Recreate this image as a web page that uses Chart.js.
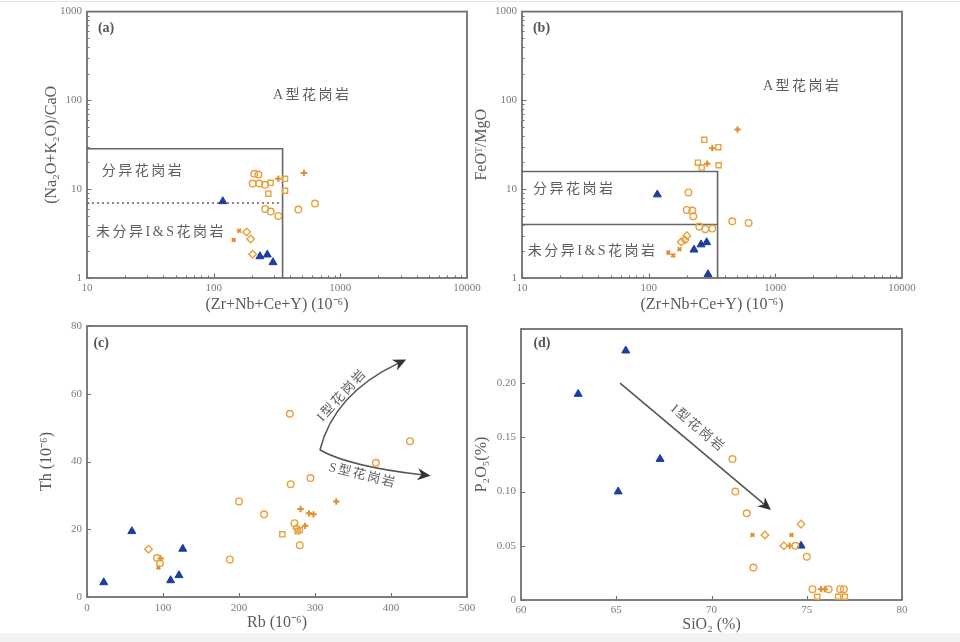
<!DOCTYPE html>
<html>
<head>
<meta charset="utf-8">
<script src="https://cdn.jsdelivr.net/npm/chart.js@4.4.1/dist/chart.umd.min.js"></script>
<style>
  html, body { margin: 0; padding: 0; background: #fff; }
  #wrap { position: relative; width: 960px; height: 642px; overflow: hidden; background: #fff; }
  #wrap canvas { position: absolute; left: 0; top: 0; }
  .topline { position: absolute; left: 0; top: 1px; width: 960px; height: 1px; background: #e4e4e4; }
  .strip { position: absolute; left: 0; bottom: 0; width: 960px; height: 9px; background: #f2f2f2; }
</style>
</head>
<body>
<div id="wrap">
  <div class="topline"></div>
  <canvas id="pa" width="960" height="642"></canvas>
  <canvas id="pb" width="960" height="642"></canvas>
  <canvas id="pc" width="960" height="642"></canvas>
  <canvas id="pd" width="960" height="642"></canvas>
  <div class="strip"></div>
</div>
<script>
// ---- data: [x, y] pairs ----
// (a) (Zr+Nb+Ce+Y) vs (Na2O+K2O)/CaO
const aTriangle = [[118, 7.3], [232, 1.75], [265, 1.83], [294, 1.5]];
const aCircle = [[209, 14.9], [226, 14.6], [203, 11.6], [229, 11.6], [254, 11.2], [255, 6.0], [282, 5.6], [324, 5.0], [466, 5.9], [631, 6.9]];
const aSquare = [[282, 11.8], [270, 8.9], [366, 13.1], [366, 9.6]];
const aDiamond = [[182, 3.3], [196, 2.75], [203, 1.85]];
const aCross = [[144, 2.68], [159, 3.4]];
const aPlus = [[516, 15.2], [324, 13.1]];

// (b) (Zr+Nb+Ce+Y) vs FeOT/MgO
const bTriangle = [[117, 8.7], [228, 2.08], [259, 2.38], [287, 2.52], [294, 1.1]];
const bCircle = [[206, 9.2], [200, 5.85], [221, 5.75], [225, 4.95], [251, 3.8], [280, 3.55], [318, 3.6], [457, 4.35], [615, 4.17]];
const bSquare = [[275, 36], [355, 29.7], [245, 19.9], [262, 17.5], [357, 18.6]];
const bDiamond = [[200, 3.0], [194, 2.68], [181, 2.55]];
const bCross = [[143, 1.93], [156, 1.8], [175, 2.11]];
const bPlus = [[503, 47], [318, 29], [290, 19.4]];

// (c) Rb vs Th
const cTriangle = [[22, 4.3], [59, 19.4], [110, 4.9], [121, 6.4], [126, 14.2]];
const cCircle = [[267, 54.1], [268, 33.3], [294, 35.1], [380, 39.6], [425, 46.0], [200, 28.2], [233, 24.4], [188, 11.1], [280, 15.3], [273, 21.8], [92, 11.5], [96, 10.0]];
const cSquare = [[257, 18.5], [277, 19.4], [280, 19.8]];
const cDiamond = [[81, 14.1], [276, 20.3]];
const cCross = [[94, 8.7]];
const cPlus = [[281, 26.0], [292, 24.7], [298, 24.4], [287, 21.0], [328, 28.2], [97, 11.4]];

// (d) SiO2 vs P2O5
const dTriangle = [[63.0, 0.19], [65.5, 0.23], [65.1, 0.10], [67.3, 0.13], [74.7, 0.05]];
const dCircle = [[71.1, 0.13], [71.25, 0.10], [71.85, 0.08], [72.2, 0.03], [74.4, 0.05], [75.0, 0.04], [75.3, 0.01], [76.15, 0.01], [76.75, 0.01], [76.95, 0.01]];
const dSquare = [[75.55, 0.003], [76.65, 0.003], [77.0, 0.003]];
const dDiamond = [[72.8, 0.06], [73.8, 0.05], [74.7, 0.07]];
const dCross = [[72.15, 0.06], [74.2, 0.06]];
const dPlus = [[75.75, 0.01], [75.95, 0.01], [74.1, 0.05]];

// axis ticks
const logTicks = [1, 10, 100, 1000, 10000];
const cXTicks = [0, 100, 200, 300, 400, 500];
const cYTicks = [0, 20, 40, 60, 80];
const dXTicks = [60, 65, 70, 75, 80];
const dYTicks = [0, 0.05, 0.10, 0.15, 0.20];

const ORANGE = '#e6a13c';
const ORANGE2 = '#e08d2c';
const BLUE = '#1b3d9e';
const FRAME = '#707070';
const TXT = '#5a5a5a';
const TICKTXT = '#7a7a7a';
const SERIF = '"Liberation Serif", "Times New Roman", serif';
const CJK = '"Liberation Serif", "Noto Sans CJK SC", serif';

function pts(arr) { return arr.map(p => ({ x: p[0], y: p[1] })); }

function makeSets(tri, circ, sq, dia, cross, plus) {
  const open = 'rgba(255,255,255,0)';
  return [
    { data: pts(circ), pointStyle: 'circle', pointRadius: 3.3, borderWidth: 1.4, borderColor: ORANGE, backgroundColor: open },
    { data: pts(sq), pointStyle: 'rect', pointRadius: 3.6, borderWidth: 1.4, borderColor: ORANGE, backgroundColor: open },
    { data: pts(dia), pointStyle: 'rectRot', pointRadius: 3.8, borderWidth: 1.4, borderColor: ORANGE, backgroundColor: open },
    { data: pts(cross), pointStyle: 'crossRot', pointRadius: 2.6, borderWidth: 2, borderColor: ORANGE2, backgroundColor: ORANGE2 },
    { data: pts(plus), pointStyle: 'cross', pointRadius: 3.2, borderWidth: 2, borderColor: ORANGE2, backgroundColor: ORANGE2 },
    { data: pts(tri), pointStyle: 'triangle', pointRadius: 4.6, borderWidth: 1, borderColor: BLUE, backgroundColor: BLUE }
  ];
}

function tickList(scale) {
  const out = [];
  if (scale.type === 'logarithmic') {
    for (let d = scale.min; d < scale.max * 0.999; d *= 10) {
      out.push([d, 4.5]);
      for (let k = 2; k <= 9; k++) out.push([d * k, 2.5]);
    }
  } else {
    scale.ticks.forEach(t => out.push([t.value, 4]));
  }
  return out;
}

function text(ctx, str, x, y, o) {
  ctx.save();
  ctx.translate(x, y);
  ctx.rotate((o.rot || 0) * Math.PI / 180);
  ctx.font = o.font;
  ctx.fillStyle = o.color || TXT;
  ctx.textAlign = o.align || 'left';
  ctx.textBaseline = 'middle';
  if ('letterSpacing' in ctx) ctx.letterSpacing = o.ls || '0px';
  ctx.fillText(str, 0, 0);
  ctx.restore();
}

function arrow(ctx, chart, p0, c, p1) {
  const xs = chart.scales.x, ys = chart.scales.y;
  const P = p => [xs.getPixelForValue(p[0]), ys.getPixelForValue(p[1])];
  const [x0, y0] = P(p0), [cx, cy] = P(c), [x1, y1] = P(p1);
  const ang = Math.atan2(y1 - cy, x1 - cx);
  const L = 13, W = 6;
  const bx = x1 - L * Math.cos(ang), by = y1 - L * Math.sin(ang);
  ctx.save();
  ctx.strokeStyle = '#555';
  ctx.lineWidth = 1.6;
  ctx.beginPath();
  ctx.moveTo(x0, y0);
  ctx.quadraticCurveTo(cx, cy, bx + 4 * Math.cos(ang), by + 4 * Math.sin(ang));
  ctx.stroke();
  ctx.fillStyle = '#333';
  ctx.beginPath();
  ctx.moveTo(x1, y1);
  ctx.lineTo(bx + W * Math.sin(ang), by - W * Math.cos(ang));
  ctx.lineTo(bx + 4 * Math.cos(ang), by + 4 * Math.sin(ang));
  ctx.lineTo(bx - W * Math.sin(ang), by + W * Math.cos(ang));
  ctx.closePath();
  ctx.fill();
  ctx.restore();
}

function axis(type, min, max, ticks, fmt, title, titleCenter, area, horizontal) {
  const lh = 19.2;
  const cfg = {
    type: type, min: min, max: max,
    afterBuildTicks: ax => { ax.ticks = ticks.map(v => ({ value: v })); },
    ticks: {
      autoSkip: false, maxRotation: 0, color: TICKTXT,
      font: { family: SERIF, size: 11 },
      callback: fmt
    },
    grid: { display: false, drawTicks: false },
    border: { display: false },
    title: { display: true, text: title, color: TXT, font: { family: SERIF, size: 16 } }
  };
  if (horizontal) {
    cfg.position = 'bottom';
    cfg.afterFit = s => { s.height = 40; };
    cfg.ticks.padding = titleCenter.tick - area.b - 6.6;
    cfg.title.padding = { top: 0, bottom: area.b + 40 - titleCenter.title - lh / 2 };
  } else {
    cfg.position = 'left';
    cfg.afterFit = s => { s.width = 50; };
    cfg.ticks.padding = 5;
    cfg.title.padding = { top: titleCenter.title - (area.l - 50) - lh / 2, bottom: 0 };
  }
  return cfg;
}

function panel(id, area, xAxis, yAxis, sets, decorate) {
  new Chart(document.getElementById(id), {
    type: 'scatter',
    data: { datasets: sets },
    options: {
      responsive: false, animation: false, devicePixelRatio: 1,
      layout: { padding: { left: area.l - 50, top: area.t, right: 960 - area.r, bottom: 642 - area.b - 40 } },
      plugins: { legend: { display: false }, tooltip: { enabled: false } },
      scales: { x: xAxis, y: yAxis }
    },
    plugins: [{
      id: 'decor' + id,
      beforeDatasetsDraw(chart) {
        const { ctx, chartArea: a, scales } = chart;
        ctx.save();
        ctx.strokeStyle = FRAME;
        ctx.lineWidth = 1.1;
        ctx.beginPath();
        tickList(scales.x).forEach(([v, len]) => {
          const p = Math.round(scales.x.getPixelForValue(v)) + 0.5;
          ctx.moveTo(p, a.bottom); ctx.lineTo(p, a.bottom - len);
        });
        tickList(scales.y).forEach(([v, len]) => {
          const p = Math.round(scales.y.getPixelForValue(v)) + 0.5;
          ctx.moveTo(a.left, p); ctx.lineTo(a.left + len, p);
        });
        ctx.stroke();
        ctx.lineWidth = 1.8;
        ctx.strokeRect(a.left, a.top, a.right - a.left, a.bottom - a.top);
        ctx.restore();
        decorate(chart, ctx, scales.x, scales.y);
      }
    }]
  });
}

const CN = { font: '14px ' + CJK, ls: '2.5px', color: '#5e5e5e' };
const PANEL_LBL = { font: 'bold 14px ' + SERIF, color: '#555' };
const logFmt = v => String(v);

// ---- (a) ----
const areaA = { l: 87, t: 7, r: 467, b: 278 };
panel('pa', areaA,
  axis('logarithmic', 10, 10000, logTicks.slice(1), logFmt, '(Zr+Nb+Ce+Y) (10⁻⁶)', { title: 305, tick: 288 }, areaA, true),
  axis('logarithmic', 1, 1000, logTicks.slice(0, 4), logFmt, '(Na₂O+K₂O)/CaO', { title: 52 }, areaA, false),
  makeSets(aTriangle, aCircle, aSquare, aDiamond, aCross, aPlus),
  (chart, ctx, xs, ys) => {
    const X = v => xs.getPixelForValue(v), Y = v => ys.getPixelForValue(v);
    ctx.save();
    ctx.strokeStyle = '#666';
    ctx.lineWidth = 1.6;
    ctx.beginPath();
    ctx.moveTo(X(10), Y(28.5)); ctx.lineTo(X(350), Y(28.5)); ctx.lineTo(X(350), Y(1));
    ctx.stroke();
    ctx.setLineDash([2, 3]);
    ctx.lineWidth = 1.4;
    ctx.beginPath();
    ctx.moveTo(X(10), Y(7)); ctx.lineTo(X(350), Y(7));
    ctx.stroke();
    ctx.restore();
    text(ctx, '(a)', X(12.2), Y(640), PANEL_LBL);
    text(ctx, 'A型花岗岩', X(294), Y(115), CN);
    text(ctx, '分异花岗岩', X(13.1), Y(16.1), CN);
    text(ctx, '未分异I&S花岗岩', X(11.8), Y(3.3), CN);
  });

// ---- (b) ----
const areaB = { l: 522, t: 7, r: 902, b: 278 };
panel('pb', areaB,
  axis('logarithmic', 10, 10000, logTicks.slice(1), logFmt, '(Zr+Nb+Ce+Y) (10⁻⁶)', { title: 305, tick: 288 }, areaB, true),
  axis('logarithmic', 1, 1000, logTicks.slice(0, 4), logFmt, 'FeOᵀ/MgO', { title: 482 }, areaB, false),
  makeSets(bTriangle, bCircle, bSquare, bDiamond, bCross, bPlus),
  (chart, ctx, xs, ys) => {
    const X = v => xs.getPixelForValue(v), Y = v => ys.getPixelForValue(v);
    ctx.save();
    ctx.strokeStyle = '#666';
    ctx.lineWidth = 1.6;
    ctx.beginPath();
    ctx.moveTo(X(10), Y(15.8)); ctx.lineTo(X(350), Y(15.8)); ctx.lineTo(X(350), Y(1));
    ctx.moveTo(X(10), Y(4)); ctx.lineTo(X(350), Y(4));
    ctx.stroke();
    ctx.restore();
    text(ctx, '(b)', X(12.2), Y(640), PANEL_LBL);
    text(ctx, 'A型花岗岩', X(798), Y(144), CN);
    text(ctx, '分异花岗岩', X(12.2), Y(9.9), CN);
    text(ctx, '未分异I&S花岗岩', X(11.1), Y(1.99), CN);
  });

// ---- (c) ----
const areaC = { l: 87, t: 326, r: 467, b: 597 };
panel('pc', areaC,
  axis('linear', 0, 500, cXTicks, v => String(v), 'Rb (10⁻⁶)', { title: 623, tick: 608 }, areaC, true),
  axis('linear', 0, 80, cYTicks, v => String(v), 'Th (10⁻⁶)', { title: 47 }, areaC, false),
  makeSets(cTriangle, cCircle, cSquare, cDiamond, cCross, cPlus),
  (chart, ctx, xs, ys) => {
    const X = v => xs.getPixelForValue(v), Y = v => ys.getPixelForValue(v);
    text(ctx, '(c)', X(8.5), Y(75), PANEL_LBL);
    arrow(ctx, chart, [306.5, 43.4], [325, 60], [420, 70.1]);
    arrow(ctx, chart, [306.5, 43.4], [346, 38.5], [452, 35.8]);
    text(ctx, 'I型花岗岩', X(336), Y(59.5), { font: '13px ' + CJK, ls: '2px', align: 'center', rot: -47, color: '#5e5e5e' });
    text(ctx, 'S型花岗岩', X(362.8), Y(35.8), { font: '13px ' + CJK, ls: '2px', align: 'center', rot: 14, color: '#5e5e5e' });
  });

// ---- (d) ----
const areaD = { l: 521, t: 329, r: 902, b: 600 };
panel('pd', areaD,
  axis('linear', 60, 80, dXTicks, v => String(v), 'SiO₂ (%)', { title: 625, tick: 610 }, areaD, true),
  axis('linear', 0, 0.25, dYTicks.concat([0.25]), v => (v === 0 ? '0' : v > 0.24 ? '' : v.toFixed(2)), 'P₂O₅(%)', { title: 482 }, areaD, false),
  makeSets(dTriangle, dCircle, dSquare, dDiamond, dCross, dPlus),
  (chart, ctx, xs, ys) => {
    const X = v => xs.getPixelForValue(v), Y = v => ys.getPixelForValue(v);
    text(ctx, '(d)', X(60.65), Y(0.237), PANEL_LBL);
    arrow(ctx, chart, [65.2, 0.2], [69.16, 0.1415], [73.12, 0.083]);
    text(ctx, 'I型花岗岩', X(69.28), Y(0.158), { font: '13px ' + CJK, ls: '2px', align: 'center', rot: 40, color: '#5e5e5e' });
  });
</script>
</body>
</html>
